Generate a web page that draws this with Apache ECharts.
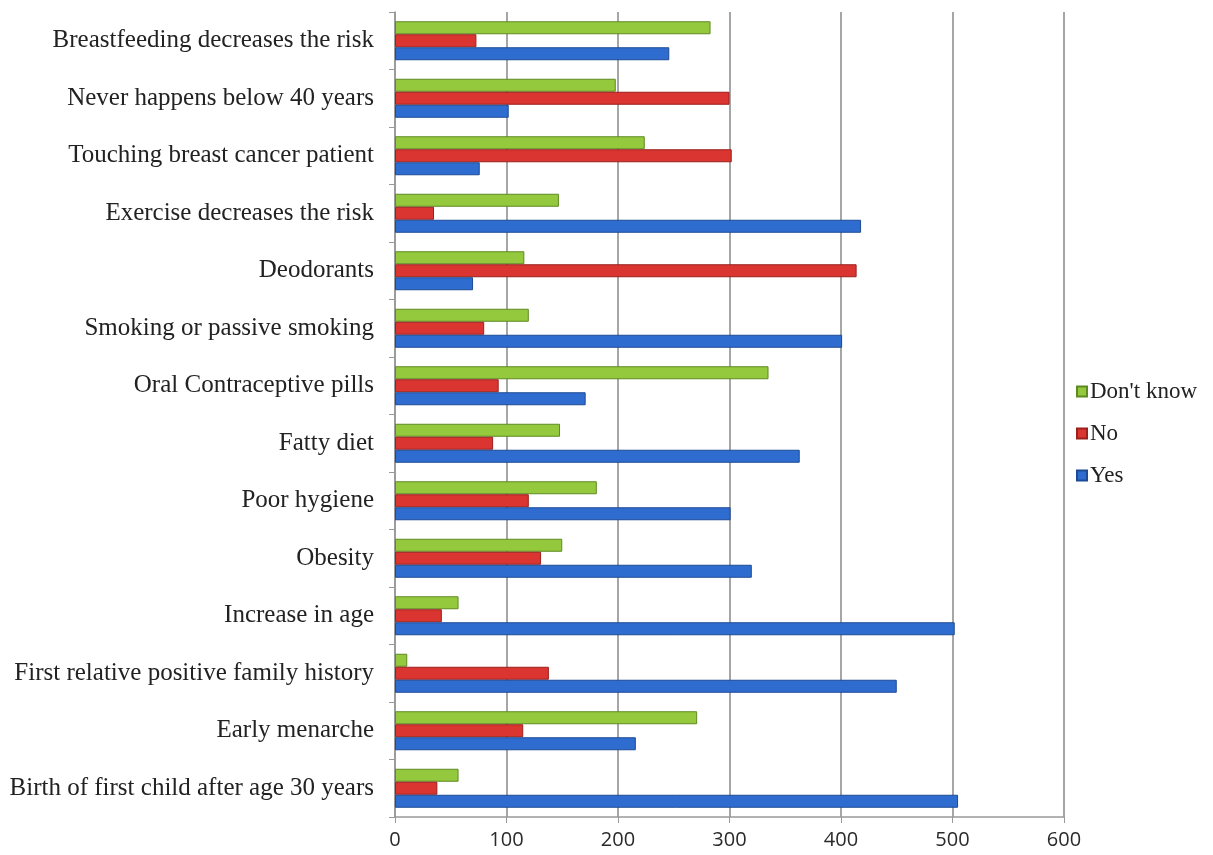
<!DOCTYPE html>
<html>
<head>
<meta charset="utf-8">
<script src="https://cdn.jsdelivr.net/npm/echarts@6/dist/echarts.min.js"></script>
<style>
  html, body { margin: 0; padding: 0; background: #fff; }
  #chartDiv { width: 1213px; height: 855px; }
</style>
</head>
<body>
<div id="chartDiv"></div>
<script>
// categories listed bottom to top
var categories = [
  "Birth of first child after age 30 years",
  "Early menarche",
  "First relative positive family history",
  "Increase in age",
  "Obesity",
  "Poor hygiene",
  "Fatty diet",
  "Oral Contraceptive pills",
  "Smoking or passive smoking",
  "Deodorants",
  "Exercise decreases the risk",
  "Touching breast cancer patient",
  "Never happens below 40 years",
  "Breastfeeding decreases the risk"
];
var yesValues = [505, 216, 450, 502, 320, 301, 363, 171, 401, 70, 418, 76, 102, 246];
var noValues = [38, 115, 138, 42, 131, 120, 88, 93, 80, 414, 35, 302, 300, 73];
var dontKnowValues = [57, 271, 11, 57, 150, 181, 148, 335, 120, 116, 147, 224, 198, 283];
var xTicks = [0, 100, 200, 300, 400, 500, 600];

var myChart = echarts.init(document.getElementById("chartDiv"));

function barSeries(name, data, fill, border) {
  return {
    name: name,
    type: "bar",
    data: data,
    barWidth: 13,
    barGap: "0%",
    itemStyle: { color: fill, borderColor: border, borderWidth: 1 }
  };
}

var option = {
  animation: false,
  backgroundColor: "#fff",
  grid: { left: 395, right: 149, top: 12, bottom: 38 },
  legend: {
    orient: "vertical",
    left: 1071,
    top: 375,
    itemWidth: 10,
    itemHeight: 10,
    itemGap: 19,
    icon: "rect",
    data: ["Don't know", "No", "Yes"],
    textStyle: { fontFamily: "Liberation Serif", fontSize: 23, color: "#222", padding: [0, 0, 0, -2] }
  },
  xAxis: {
    type: "value",
    min: xTicks[0],
    max: xTicks[xTicks.length - 1],
    interval: 100,
    axisLine: { show: true, lineStyle: { color: "#999", width: 1.5 } },
    axisTick: { show: true, length: 6, lineStyle: { color: "#999" } },
    splitLine: { show: true, lineStyle: { color: "#888", width: 1.5 } },
    axisLabel: { fontFamily: "Open Sans", fontSize: 20, color: "#2a2a2a", margin: 13 }
  },
  yAxis: {
    type: "category",
    data: categories,
    axisLine: { show: true, lineStyle: { color: "#999", width: 1.5 } },
    axisTick: { show: true, length: 6, lineStyle: { color: "#999" } },
    axisLabel: { fontFamily: "Liberation Serif", fontSize: 25, color: "#222", margin: 21 }
  },
  series: [
    barSeries("Don't know", dontKnowValues, "#94c83d", "#5f8a22"),
    barSeries("No", noValues, "#da3530", "#9a201c"),
    barSeries("Yes", yesValues, "#2f6ccf", "#1d4a94")
  ]
};

myChart.setOption(option);
</script>
</body>
</html>
